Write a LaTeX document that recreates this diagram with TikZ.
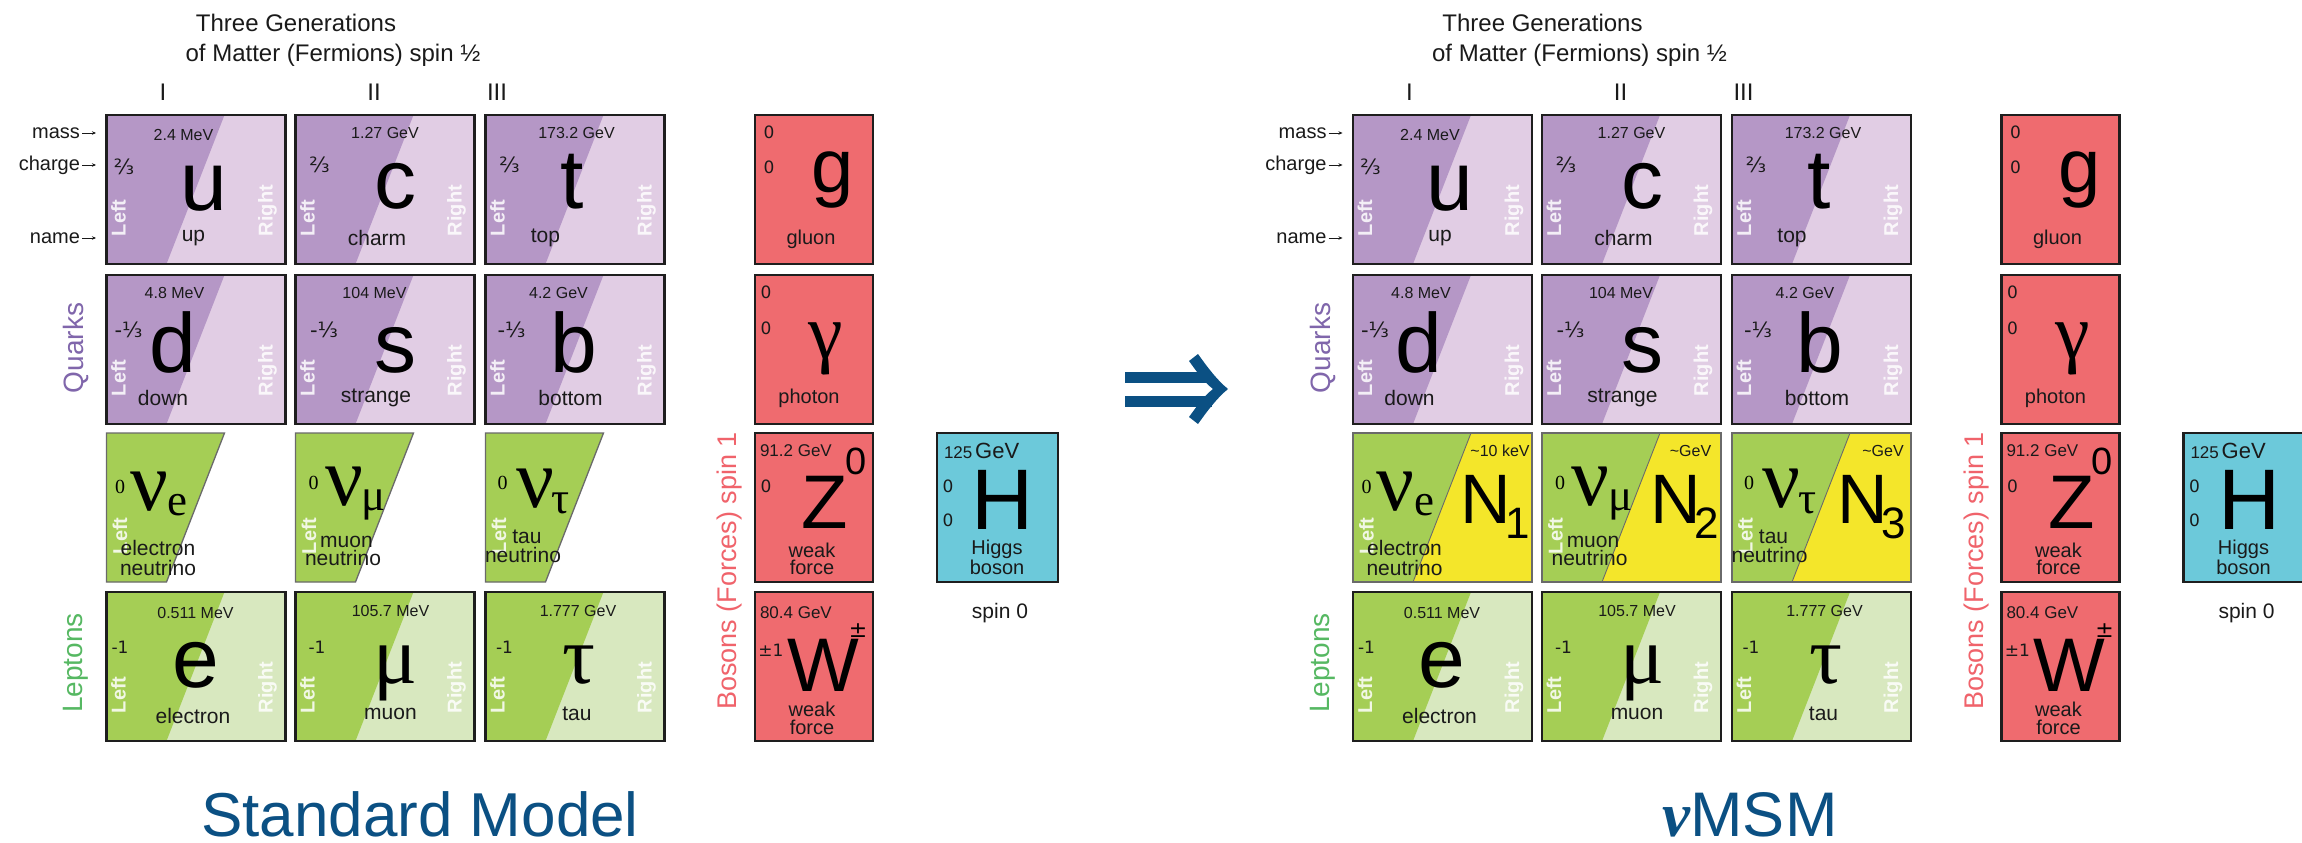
\documentclass[tikz,border=0pt]{standalone}
\usepackage{fontspec}
\setmainfont{Liberation Sans}
\newfontfamily\serifnu{Liberation Serif}
\newfontfamily\djv{DejaVu Sans}
\usetikzlibrary{arrows.meta}

\newcommand\fs[1]{\fontsize{#1}{#1}\selectfont}

\definecolor{qdark}{HTML}{B597C6}
\definecolor{qlight}{HTML}{E1CDE4}
\definecolor{ldark}{HTML}{A5CE55}
\definecolor{llight}{HTML}{D8E8BF}
\definecolor{bred}{HTML}{EF6B6F}
\definecolor{hblue}{HTML}{6CC9DA}
\definecolor{nyel}{HTML}{F4E62A}
\definecolor{quarkc}{HTML}{8066AB}
\definecolor{leptc}{HTML}{56B862}
\definecolor{bosonc}{HTML}{F0636B}
\definecolor{navy}{HTML}{0B5083}
\definecolor{edge}{HTML}{1E1E1E}
\definecolor{nuedge}{HTML}{6A6A6A}
\definecolor{ink}{HTML}{1A1A1A}

\tikzset{
 cellborder/.style={draw=edge, line width=2.2pt},
 nuborder/.style={draw=nuedge, line width=1.3pt},
 masslbl/.style={font=\fs{16}, text=ink},
 chglbl/.style={font=\djv\fs{17}, text=ink},
 fraclbl/.style={font=\djv\fs{21}, text=ink},
 symsans/.style={font=\fs{84}, anchor=base},
 symserif/.style={font=\serifnu\fs{82}, anchor=base},
 namelbl/.style={font=\fs{21}, text=ink},
 lrlbl/.style={font=\bfseries\fs{20}, text=white, text opacity=0.85, rotate=90, anchor=west},
 nusym/.style={font=\serifnu\fs{84}, anchor=base},
 nusub/.style={font=\serifnu\fs{45}, anchor=base},
 nuzero/.style={font=\serifnu\fs{20}},
 Nsym/.style={font=\fs{70}, anchor=base},
 Nsub/.style={font=\fs{44}, anchor=base},
 bzero/.style={font=\djv\fs{17}, text=ink},
 bsym/.style={font=\fs{76}, anchor=base},
 bname/.style={font=\fs{20}, text=ink},
 bmass/.style={font=\fs{17}, anchor=west, text=ink},
 grouplbl/.style={font=\fs{28}, rotate=90},
 headlbl/.style={font=\fs{24}, text=ink},
 keylbl/.style={font=\fs{20}, anchor=east, text=ink},
 keyarrow/.style={-{Stealth[length=4pt,width=3.5pt]}, line width=0.8pt, ink},
}

% fermion cell: x y dark light texts
\newcommand\fcell[5]{%
 \begin{scope}[shift={(#1,#2)}]
  \fill[#4] (0,0) rectangle (179,149);
  \fill[#3] (0,0) -- (118,0) -- (60,149) -- (0,149) -- cycle;
  \draw[cellborder] (0,0) rectangle (179,149);
  \node[lrlbl] at (12,121) {Left};
  \node[lrlbl] at (161,121) {Right};
  #5
 \end{scope}}

% neutrino cell: x y flag texts Ntexts
\newcommand\nucell[5]{%
 \begin{scope}[shift={(#1,#2)}]
  \ifnum#3=1\relax
   \fill[ldark] (0,0) rectangle (179,149);
   \fill[nyel] (118,0) -- (179,0) -- (179,149) -- (60,149) -- cycle;
   \draw[nuedge, line width=0.9pt] (118,0) -- (60,149);
   \draw[nuborder] (0,0) rectangle (179,149);
   #5
  \else
   \fill[ldark] (0,0) -- (118,0) -- (60,149) -- (0,149) -- cycle;
   \draw[nuborder] (0,0) -- (118,0) -- (60,149) -- (0,149) -- cycle;
  \fi
  \node[lrlbl] at (13.5,121) {Left};
  #4
 \end{scope}}

% boson cell: x y w fill texts
\newcommand\bcell[5]{%
 \begin{scope}[shift={(#1,#2)}]
  \fill[#4] (0,0) rectangle (#3,149);
  \draw[cellborder] (0,0) rectangle (#3,149);
  #5
 \end{scope}}

\newcommand\panel[2]{%
\begin{scope}[shift={(#1,0)}]
 \node[headlbl] (title1) at (296,23) {Three Generations};
 \node[headlbl] (title2) at (333,55) {of Matter (Fermions) spin ½};
 \node[headlbl] (gen1) at (163,92) {I};
 \node[headlbl] (gen2) at (374,92) {II};
 \node[headlbl] (gen3) at (497,92) {III};
 \node[keylbl] (kmass) at (80,133) {mass};
 \draw[keyarrow] (kmass.east) ++(2,0) -- ++(14,0);
 \node[keylbl] (kcharge) at (80,165) {charge};
 \draw[keyarrow] (kcharge.east) ++(2,0) -- ++(14,0);
 \node[keylbl] (kname) at (80,238) {name};
 \draw[keyarrow] (kname.east) ++(2,0) -- ++(14,0);
 \node[grouplbl, text=quarkc] (quarks) at (76,348) {Quarks};
 \node[grouplbl, text=leptc] (leptons) at (76,663) {Leptons};
 \node[grouplbl, text=bosonc, font=\fs{27}] (bosons) at (730,571) {Bosons (Forces) spin 1};
 % row 1
 \fcell{106.5}{115}{qdark}{qlight}{%
  \node[masslbl] at (77,20) {2.4 MeV};
  \node[fraclbl] at (17.5,52) {⅔};
  \node[symsans] at (97,95) {u};
  \node[namelbl] at (87,123) {up};}
 \fcell{295.5}{115}{qdark}{qlight}{%
  \node[masslbl] at (89.5,18) {1.27 GeV};
  \node[fraclbl] at (24,50) {⅔};
  \node[symsans] at (100,93) {c};
  \node[namelbl] at (81.5,123) {charm};}
 \fcell{485.5}{115}{qdark}{qlight}{%
  \node[masslbl] at (91,18) {173.2 GeV};
  \node[fraclbl] at (24,50) {⅔};
  \node[symsans] at (87,93) {t};
  \node[namelbl] at (60,123) {top};}
 % row 2
 \fcell{106.5}{275}{qdark}{qlight}{%
  \node[masslbl] at (68,18) {4.8 MeV};
  \node[fraclbl] at (22,55) {-⅓};
  \node[symsans] at (66,97) {d};
  \node[namelbl] at (56.5,123) {down};}
 \fcell{295.5}{275}{qdark}{qlight}{%
  \node[masslbl] at (79,18) {104 MeV};
  \node[fraclbl] at (28.5,55) {-⅓};
  \node[symsans] at (100,97) {s};
  \node[namelbl] at (80.5,123) {strange};}
 \fcell{485.5}{275}{qdark}{qlight}{%
  \node[masslbl] at (73,18) {4.2 GeV};
  \node[fraclbl] at (26,55) {-⅓};
  \node[symsans] at (88,97) {b};
  \node[namelbl] at (85,123) {bottom};}
 % row 3 neutrinos
 \nucell{106.5}{433}{#2}{%
  \node[nuzero] at (13.5,54) {0};
  \node[nusym] at (42.5,77) {ν};
  \node[nusub] at (71,82) {e};
  \node[namelbl] at (51.5,115) {electron};
  \node[namelbl] at (51.5,135) {neutrino};}{%
  \node[masslbl] at (147,18) {\textasciitilde 10 keV};
  \node[Nsym] at (133,90) {N};
  \node[Nsub] at (165,105) {1};}
 \nucell{295.5}{433}{#2}{%
  \node[nuzero] at (18,50) {0};
  \node[nusym] at (48.5,72) {ν};
  \node[nusub] at (78.5,77) {μ};
  \node[namelbl] at (51,109) {muon};
  \node[namelbl] at (47.5,125) {neutrino};}{%
  \node[masslbl] at (148.5,18) {\textasciitilde GeV};
  \node[Nsym] at (134,90) {N};
  \node[Nsub] at (164.5,105) {2};}
 \nucell{485.5}{433}{#2}{%
  \node[nuzero] at (17,50) {0};
  \node[nusym] at (49.5,74) {ν};
  \node[nusub] at (75.5,80) {τ};
  \node[namelbl] at (41.5,104) {tau};
  \node[namelbl] at (37.5,122) {neutrino};}{%
  \node[masslbl] at (151,18) {\textasciitilde GeV};
  \node[Nsym] at (130.5,90) {N};
  \node[Nsub] at (161.5,105) {3};}
 % row 4
 \fcell{106.5}{592}{ldark}{llight}{%
  \node[masslbl] at (89,20.5) {0.511 MeV};
  \node[chglbl] at (13.5,55.5) {-1};
  \node[symsans] at (89,95) {e};
  \node[namelbl] at (86.5,124) {electron};}
 \fcell{295.5}{592}{ldark}{llight}{%
  \node[masslbl] at (95,18.5) {105.7 MeV};
  \node[chglbl] at (21.5,55.5) {-1};
  \node[symserif] at (100,91) {μ};
  \node[namelbl] at (95,122) {muon};}
 \fcell{485.5}{592}{ldark}{llight}{%
  \node[masslbl] at (92.5,18.5) {1.777 GeV};
  \node[chglbl] at (19,55.5) {-1};
  \node[symserif] at (93.5,91) {τ};
  \node[namelbl] at (91.5,122) {tau};}
 % bosons
 \bcell{755}{115}{118}{bred}{%
  \node[bzero] at (14,17) {0};
  \node[bzero] at (14,52) {0};
  \node[bsym] at (78,77) {g};
  \node[bname] at (56,124) {gluon};}
 \bcell{755}{275}{118}{bred}{%
  \node[bzero] at (11,17) {0};
  \node[bzero] at (11,53) {0};
  \node[symserif, font=\serifnu\fs{78}] at (71,83) {γ};
  \node[bname] at (54,123) {photon};}
 \bcell{755}{433}{118}{bred}{%
  \node[bmass] at (5,18) {91.2 GeV};
  \node[font=\fs{38}] at (101,28) {0};
  \node[bzero] at (11,53) {0};
  \node[bsym] at (70,95) {Z};
  \node[bname] at (57,117) {weak};
  \node[bname] at (57,134) {force};}
 \bcell{755}{592}{118}{bred}{%
  \node[bmass] at (5,21) {80.4 GeV};
  \node[bzero] at (16,58) {±1};
  \node[bsym] at (68,99) {W};
  \node[font=\djv\fs{22}] at (103,39) {±};
  \node[bname] at (57,117) {weak};
  \node[bname] at (57,135) {force};}
 \bcell{937}{433}{121}{hblue}{%
  \node[anchor=base west, text=ink] at (7,25) {\fs{17}125\,\fs{22}GeV};
  \node[bzero] at (11,53) {0};
  \node[bzero] at (11,87) {0};
  \node[bsym, font=\fs{86}] at (66,96) {H};
  \node[bname] at (60,116) {Higgs};
  \node[bname] at (60,134) {boson};}
 \node[font=\fs{21}, text=ink] (spin0) at (1000,613) {spin 0};
\end{scope}}

\begin{document}
\begin{tikzpicture}[x=1pt,y=-1pt, every node/.style={inner sep=0pt, outer sep=0pt}]
\useasboundingbox (0,0) rectangle (2302,843);
\fill[white] (0,0) rectangle (2302,843);
\panel{0}{0}
\panel{1246.5}{1}
% implication arrow
\fill[navy] (1125,372) rectangle (1212,383);
\fill[navy] (1125,396) rectangle (1212,407);
\fill[navy] (1198,354) .. controls (1208,368) and (1217,380) .. (1228,389)
  .. controls (1217,398) and (1208,410) .. (1198,424) -- (1189,417)
  .. controls (1197,406) and (1204,396) .. (1213,389)
  .. controls (1204,382) and (1197,372) .. (1189,361) -- cycle;
\node[font=\fs{62}, text=navy, anchor=base] (smlabel) at (420,836) {Standard Model};
\node[font=\fs{63}, text=navy, anchor=base] (nmsmlabel) at (1750,836) {{\serifnu\bfseries\itshape ν}MSM};
\end{tikzpicture}
\end{document}
